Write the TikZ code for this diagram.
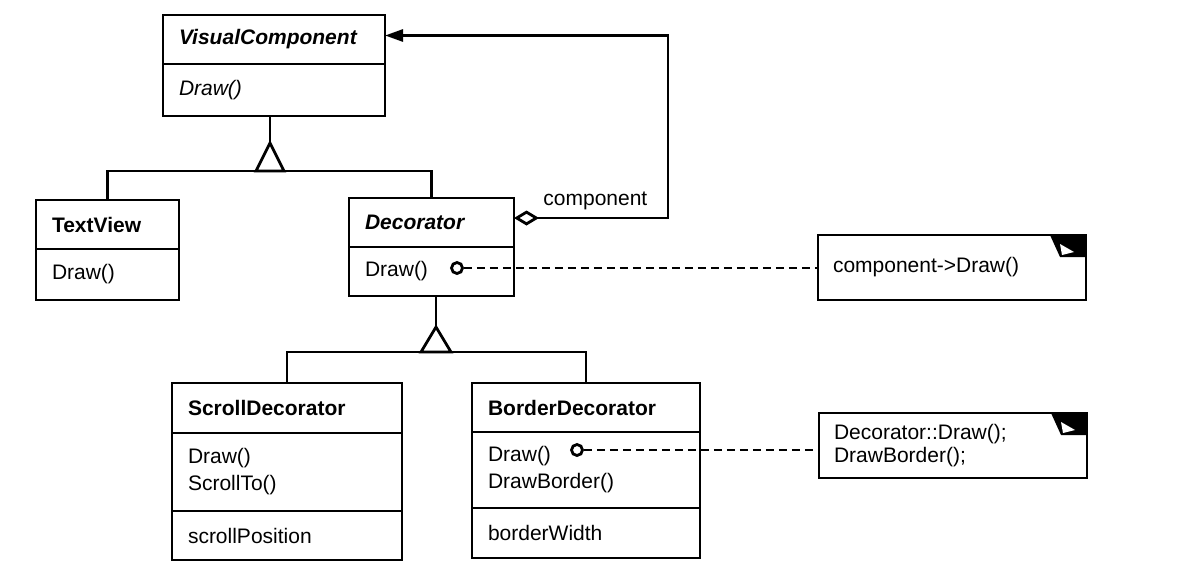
\documentclass[tikz,border=0pt]{standalone}
\usepackage{fontspec}
\setmainfont{Liberation Sans}
\usetikzlibrary{arrows.meta}
\newcommand{\umlfont}{\fontsize{10.5}{13.5}\selectfont}

\begin{document}
\begin{tikzpicture}[x=0.5pt, y=-0.5pt, line width=1.4pt,
  compart/.style={draw, rectangle, anchor=north west, outer sep=0pt, inner xsep=8pt, inner ysep=0pt, align=left, font=\umlfont},
  classname/.style={compart, font=\umlfont\bfseries},
  abstractname/.style={compart, font=\umlfont\bfseries\itshape},
  hook/.style={circle, draw, fill=white, inner sep=0pt, minimum size=5.5pt},
  notebox/.style={rectangle, anchor=north west, outer sep=0pt, inner xsep=7.5pt, inner ysep=0pt, align=left, text width=119pt, minimum height=32.5pt, font=\fontsize{10.5}{11.5}\selectfont},
  noteline/.style={dash pattern=on 4pt off 2.5pt}]
\useasboundingbox (0,0) rectangle (1186,584);%
% classes
\node[abstractname, text width=95pt, minimum height=24.5pt] (vcname) at (163,15) {VisualComponent};%
\node[compart, text width=95pt, minimum height=26pt, font=\umlfont\itshape] (vcops) at (163,64) {Draw()};%
\node[classname, text width=55.5pt, minimum height=24.5pt] (tvname) at (36,200) {TextView};%
\node[compart, text width=55.5pt, minimum height=25.5pt] (tvops) at (36,249) {Draw()};%
\node[abstractname, text width=66.5pt, minimum height=24.5pt] (decname) at (349,198) {Decorator};%
\node[compart, text width=66.5pt, minimum height=24.5pt] (decops) at (349,247) {Draw()};%
\node[classname, text width=99pt, minimum height=25pt] (sdname) at (172,383) {ScrollDecorator};%
\node[compart, text width=99pt, minimum height=39pt] (sdops) at (172,433) {Draw()\\ScrollTo()};%
\node[compart, text width=99pt, minimum height=24.5pt] (sdattr) at (172,511) {scrollPosition};%
\node[classname, text width=98pt, minimum height=24.5pt] (bdname) at (472,383) {BorderDecorator};%
\node[compart, text width=98pt, minimum height=38pt] (bdops) at (472,432) {Draw()\\DrawBorder()};%
\node[compart, text width=98pt, minimum height=25pt] (bdattr) at (472,508) {borderWidth};%
% notes
\node[notebox] (drawnote) at (818,235) {component->Draw()};%
\node[notebox] (bordernote) at (819,413) {Decorator::Draw();\\DrawBorder();};%
\foreach \n in {drawnote,bordernote}{%
  \draw (\n.north west) rectangle (\n.south east);
  \fill ([xshift=-18pt]\n.north east) -- (\n.north east) -- ([yshift=-11pt]\n.north east) -- ([xshift=-13pt,yshift=-11pt]\n.north east) -- cycle;
  \fill[white] ([xshift=-13pt,yshift=-4.5pt]\n.north east) -- ([xshift=-6pt,yshift=-8.5pt]\n.north east) -- ([xshift=-12pt,yshift=-10pt]\n.north east) -- cycle;
}%
\node[hook] (dechook) at (457,268) {};%
\node[hook] (bdhook) at (577,450) {};%
\draw[noteline] (dechook.east) -- (dechook.east -| drawnote.west);%
\draw[noteline] (bdhook.east) -- (bdhook.east -| bordernote.west);%
% inheritance
\coordinate (vcfork) at (270,171);%
\draw (vcops.south -| vcfork) -- (vcfork);%
\draw (tvname.north) |- (vcfork) -| (decname.north);%
\draw[fill=white] (vcfork) ++(-14,0) -- ++(14,-28) -- ++(14,28) -- cycle;%
\coordinate (decfork) at (436,352);%
\draw (decops.south -| decfork) -- (decfork);%
\draw (sdname.north) |- (decfork) -| (bdname.north);%
\draw[fill=white] (decfork) ++(-15,0) -- ++(15,-25) -- ++(15,25) -- cycle;%
% aggregation
\coordinate (aggbend) at (668,218);%
\draw[{Diamond[open,length=12.5pt,width=7.5pt]}-{Triangle[length=9pt,width=6pt]}] (decname.east |- aggbend) -- (aggbend) |- ([yshift=2pt]vcname.east);%
\node[font=\umlfont, anchor=base west, inner sep=0pt] (aggname) at (542,205) {component};%
\end{tikzpicture}
\end{document}
